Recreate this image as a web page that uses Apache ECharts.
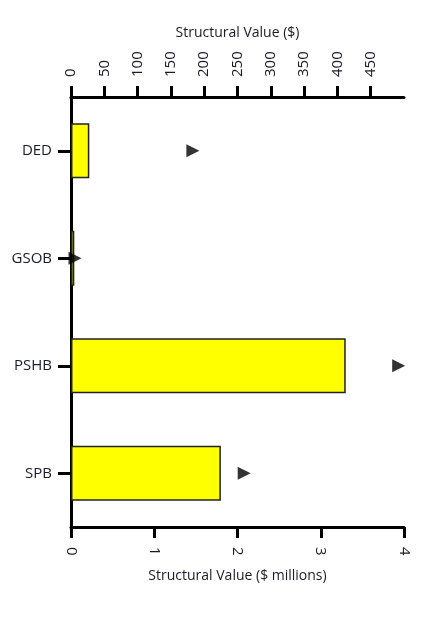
<!DOCTYPE html>
<html>
<head>
<meta charset="utf-8">
<script src="https://cdn.jsdelivr.net/npm/echarts@6/dist/echarts.min.js"></script>
<style>
html,body{margin:0;padding:0;background:#fff;}
#chart{width:423px;height:622px;}
</style>
</head>
<body>
<div id="chart"></div>
<script>
const categories = ['DED', 'GSOB', 'PSHB', 'SPB'];
const valueMillions = [0.22, 0.04, 3.30, 1.80];
const valueDollars = [183, 6, 492, 260];
const topTicks = [0, 50, 100, 150, 200, 250, 300, 350, 400, 450];

const chart = echarts.init(document.getElementById('chart'), null, {renderer: 'canvas'});
const FONT = 'Open Sans';
const textColor = '#1a1a2a';
const axisLineStyle = {color: '#000', width: 3};

chart.setOption({
  animation: false,
  backgroundColor: '#fff',
  grid: {left: 71, right: 19, top: 97, bottom: 95, containLabel: false},
  xAxis: [
    {
      type: 'value', position: 'bottom', min: 0, max: 4, interval: 1,
      name: 'Structural Value ($ millions)', nameLocation: 'middle', nameGap: 42,
      nameTextStyle: {fontFamily: FONT, fontSize: 14, color: textColor},
      axisLine: {show: true, lineStyle: axisLineStyle},
      axisTick: {show: true, length: 11, lineStyle: {color: '#000', width: 3}},
      axisLabel: {rotate: -90, margin: 20, fontFamily: FONT, fontSize: 15, color: textColor},
      splitLine: {show: false}
    },
    {
      type: 'value', position: 'top', min: 0, max: 500, interval: 50,
      name: 'Structural Value ($)', nameLocation: 'middle', nameGap: 57,
      nameTextStyle: {fontFamily: FONT, fontSize: 14, color: textColor},
      axisLine: {show: true, lineStyle: axisLineStyle},
      axisTick: {show: true, length: 11, customValues: topTicks, lineStyle: {color: '#000', width: 3}},
      axisLabel: {rotate: -90, margin: 20, customValues: topTicks, fontFamily: FONT, fontSize: 15, color: textColor},
      splitLine: {show: false}
    }
  ],
  yAxis: {
    type: 'category', data: categories, inverse: true,
    axisLine: {show: true, lineStyle: axisLineStyle},
    axisTick: {show: true, alignWithLabel: true, length: 13, lineStyle: {color: '#000', width: 3}},
    axisLabel: {margin: 19, fontFamily: FONT, fontSize: 15, color: textColor}
  },
  series: [
    {
      type: 'bar', xAxisIndex: 0, data: valueMillions, barWidth: 55,
      itemStyle: {color: '#FFFF00', borderColor: '#222', borderWidth: 1.5}
    },
    {
      type: 'scatter', xAxisIndex: 1, data: valueDollars,
      symbol: 'path://M0,0L12,6L0,12Z', symbolSize: [13, 13],
      itemStyle: {color: '#000'}, z: 5
    }
  ]
});
</script>
</body>
</html>
